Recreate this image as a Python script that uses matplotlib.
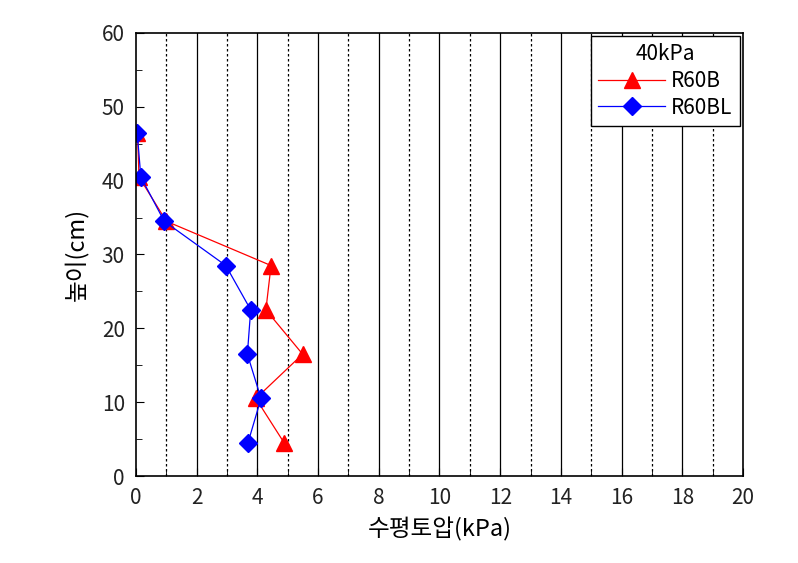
import matplotlib
matplotlib.use("Agg")
import matplotlib.pyplot as plt
from matplotlib.ticker import MultipleLocator

plt.rcParams['font.family'] = ['Noto Sans CJK KR', 'DejaVu Sans']
plt.rcParams['font.weight'] = 'light'

# heights (cm)
height = [4.5, 10.5, 16.5, 22.5, 28.5, 34.5, 40.5, 46.5]

# horizontal earth pressure (kPa)
r60b = [4.88, 3.95, 5.49, 4.28, 4.45, 1.0, 0.1, 0.05]
r60bl = [3.69, 4.12, 3.67, 3.78, 2.96, 0.93, 0.16, 0.04]

fig = plt.figure(figsize=(7.98, 5.63), dpi=100)
ax = fig.add_axes([0.1704, 0.1545, 0.7607, 0.787])

# vertical grid: solid on majors, dotted on minors
for x in range(1, 20):
    if x % 2 == 0:
        ax.axvline(x, color="black", lw=0.9, zorder=0)
    else:
        ax.axvline(x, color="black", lw=0.9, ls=(0, (2, 2)), zorder=0)

ax.plot(r60b, height, color="red", lw=0.9, marker="^", markersize=11,
        label="R60B")
ax.plot(r60bl, height, color="blue", lw=0.9, marker="D", markersize=9,
        label="R60BL")

ax.set_xlim(0, 20)
ax.set_ylim(0, 60)
ax.xaxis.set_major_locator(MultipleLocator(2))
ax.xaxis.set_minor_locator(MultipleLocator(1))
ax.yaxis.set_major_locator(MultipleLocator(10))
ax.yaxis.set_minor_locator(MultipleLocator(5))
ax.tick_params(which="both", direction="in", labelsize=15, color="black",
               labelcolor="#222222")
ax.tick_params(which="major", length=6, pad=8)
ax.tick_params(which="minor", length=4)
for s in ax.spines.values():
    s.set_linewidth(1.2)

ax.set_xlabel("수평토압(kPa)", fontsize=17, labelpad=6)
ax.set_ylabel("높이(cm)", fontsize=17, labelpad=10)

leg = ax.legend(title="40kPa", loc="upper right", fontsize=15,
                title_fontsize=15, frameon=True, fancybox=False,
                edgecolor="black", framealpha=1, borderaxespad=0.15,
                handlelength=3.2, handletextpad=0.3, labelspacing=0.22,
                borderpad=0.35)
leg.get_frame().set_linewidth(1.0)

fig.savefig("out.png", dpi=100)
